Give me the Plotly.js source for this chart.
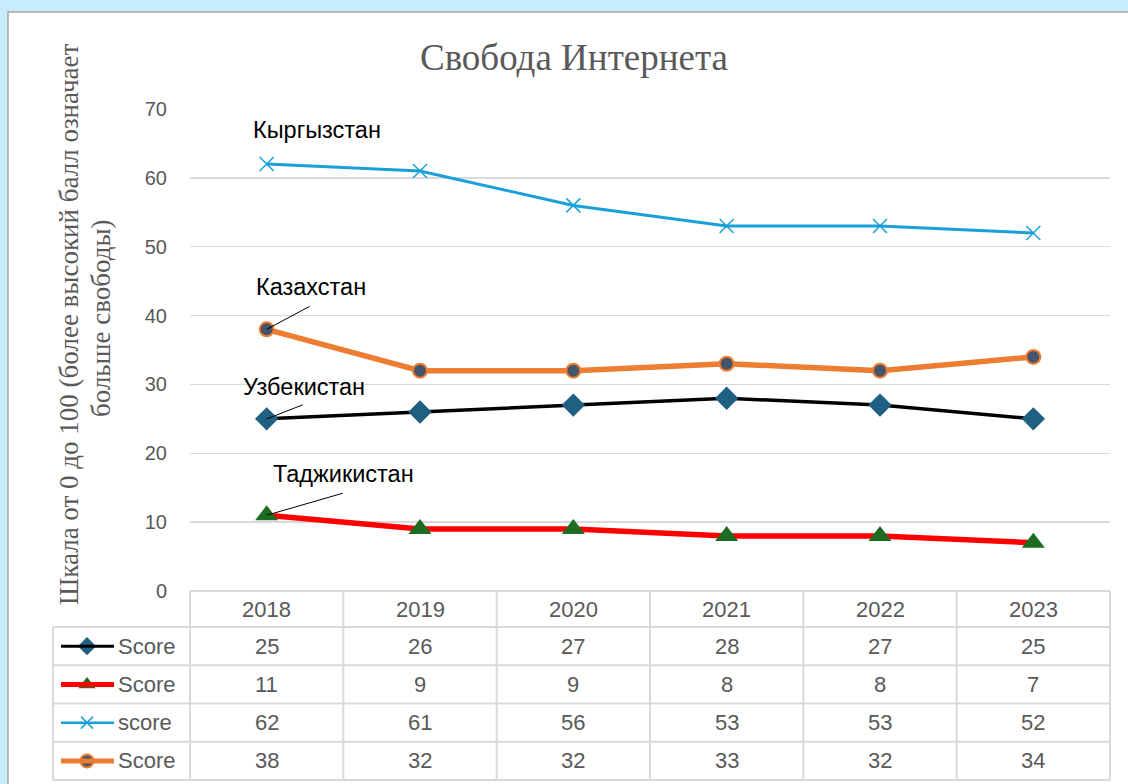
<!DOCTYPE html>
<html>
<head>
<meta charset="utf-8">
<script src="https://cdn.plot.ly/plotly-3.0.1.min.js"></script>
<style>html,body{margin:0;padding:0;}#chart{width:1128px;height:784px;}</style>
</head>
<body>
<div id="chart"></div>
<script>
// ---- data ----
const years = ['2018', '2019', '2020', '2021', '2022', '2023'];
const uzbekistan = [25, 26, 27, 28, 27, 25];
const tajikistan = [11, 9, 9, 8, 8, 7];
const kyrgyzstan = [62, 61, 56, 53, 53, 52];
const kazakhstan = [38, 32, 32, 33, 32, 34];
const seriesNames = ['Score', 'Score', 'score', 'Score'];
const countryLabels = ['Узбекистан', 'Таджикистан', 'Кыргызстан', 'Казахстан'];
const titleText = 'Свобода Интернета';
const yTitleLines = ['Шкала от 0 до 100 (более высокий балл означает', 'больше свободы)'];

// ---- geometry (pixels) ----
const W = 1128, H = 784;
const L = 190, R = 1110, T = 109, B = 591;
const tableLeft = 53, headerBottom = 627, rowH = 38.25;
const px = v => v / W;
const py = v => 1 - v / H;

const sans = 'Liberation Sans, Arial, sans-serif';
const serif = 'Liberation Serif, Times New Roman, serif';
const grey = '#595959';
const gridC = '#d9d9d9';

const styles = [
  {data: uzbekistan, line: {color: '#000000', width: 3.5}, marker: {symbol: 'diamond', size: 18, color: '#1f5f82'}, keySize: 14},
  {data: tajikistan, line: {color: '#ff0000', width: 5.5}, marker: {symbol: 'triangle-up', size: 20, color: '#1e6b22'}, keySize: 15},
  {data: kyrgyzstan, line: {color: '#1aa0d8', width: 3}, marker: {symbol: 'x-thin', size: 14, color: '#1aa0d8', line: {color: '#1aa0d8', width: 1.5}}, keySize: 12},
  {data: kazakhstan, line: {color: '#ed7d31', width: 5.5}, marker: {symbol: 'circle', size: 14, color: '#44546a', line: {color: '#ed7d31', width: 2}}, keySize: 13}
];

const idx = years.map((y, i) => i);

const traces = styles.map((s, i) => ({
  type: 'scatter', mode: 'lines+markers', x: years, y: s.data,
  name: seriesNames[i], line: s.line, marker: s.marker, cliponaxis: false,
  xaxis: 'x', yaxis: 'y', showlegend: false, hoverinfo: 'skip'
}));

// legend keys in table
const rowCenter = i => headerBottom + rowH * (i + 0.5);
styles.forEach((s, i) => {
  traces.push({
    type: 'scatter', mode: 'markers', x: [87], y: [rowCenter(i)],
    marker: Object.assign({}, s.marker, {size: s.keySize}), xaxis: 'x2', yaxis: 'y2', showlegend: false, hoverinfo: 'skip', cliponaxis: false
  });
});

const shapes = [];
// white panel
shapes.push({type: 'rect', xref: 'paper', yref: 'paper', x0: px(8), x1: px(W + 10), y0: py(12), y1: py(H + 10),
  fillcolor: '#ffffff', line: {color: '#a6a6a6', width: 1.5}, layer: 'below'});

// table grid
const colW = (R - L) / years.length;
const tableBottom = headerBottom + rowH * 4;
for (let i = 0; i <= years.length; i++) {
  shapes.push({type: 'line', xref: 'paper', yref: 'paper', x0: px(L + i * colW), x1: px(L + i * colW),
    y0: py(B), y1: py(tableBottom), line: {color: gridC, width: 2}});
}
shapes.push({type: 'line', xref: 'paper', yref: 'paper', x0: px(tableLeft), x1: px(tableLeft),
  y0: py(headerBottom), y1: py(tableBottom), line: {color: gridC, width: 2}});
shapes.push({type: 'line', xref: 'paper', yref: 'paper', x0: px(L), x1: px(R),
  y0: py(B), y1: py(B), line: {color: gridC, width: 2}});
for (let r = 0; r <= 4; r++) {
  const yy = headerBottom + r * rowH;
  shapes.push({type: 'line', xref: 'paper', yref: 'paper', x0: px(tableLeft), x1: px(R),
    y0: py(yy), y1: py(yy), line: {color: gridC, width: 2}});
}
// legend key lines
styles.forEach((s, i) => {
  shapes.push({type: 'line', xref: 'paper', yref: 'paper', x0: px(61), x1: px(114),
    y0: py(rowCenter(i)), y1: py(rowCenter(i)), line: {color: s.line.color, width: s.line.width - 0.5}});
});

// leader lines (pixel offsets from first data point)
const leaders = [
  {series: 0, dx: 36, dy: 14},
  {series: 1, dx: 76, dy: 22},
  {series: 3, dx: 43, dy: 23}
];
leaders.forEach(l => {
  shapes.push({type: 'line', xref: 'x', yref: 'y', xsizemode: 'pixel', ysizemode: 'pixel',
    xanchor: idx[0], yanchor: styles[l.series].data[0], x0: 0, x1: l.dx, y0: 0, y1: l.dy,
    line: {color: '#000000', width: 1}});
});

const annotations = [];
// country labels
const labelShifts = [
  {xs: 37, ys: 32}, {xs: 77, ys: 41}, {xs: 50, ys: 34}, {xs: 44, ys: 42}
];
countryLabels.forEach((t, i) => {
  annotations.push({xref: 'x', yref: 'y', x: idx[0], y: styles[i].data[0], xshift: labelShifts[i].xs, yshift: labelShifts[i].ys,
    text: t, showarrow: false, font: {family: sans, size: 23.5, color: '#000000'}, xanchor: 'center', yanchor: 'middle'});
});
// table header
idx.forEach(j => {
  annotations.push({xref: 'x', yref: 'paper', x: j, y: py((B + headerBottom) / 2), text: years[j], showarrow: false,
    font: {family: sans, size: 22, color: grey}, xanchor: 'center', yanchor: 'middle'});
});
// table values
styles.forEach((s, i) => {
  s.data.forEach((v, j) => {
    annotations.push({xref: 'x', yref: 'paper', x: idx[j], y: py(rowCenter(i)), text: String(v), showarrow: false,
      font: {family: sans, size: 22, color: grey}, xanchor: 'center', yanchor: 'middle'});
  });
  annotations.push({xref: 'paper', yref: 'paper', x: px(116), y: py(rowCenter(i)), text: seriesNames[i], showarrow: false,
    font: {family: sans, size: 22, color: grey}, xanchor: 'left', yanchor: 'middle'});
});
// y-axis title (two lines)
annotations.push({xref: 'paper', yref: 'paper', x: px(69), y: py(325), text: yTitleLines[0], textangle: -90, showarrow: false,
  font: {family: serif, size: 27, color: grey}, xanchor: 'center', yanchor: 'middle'});
annotations.push({xref: 'paper', yref: 'paper', x: px(101), y: py(318), text: yTitleLines[1], textangle: -90, showarrow: false,
  font: {family: serif, size: 27, color: grey}, xanchor: 'center', yanchor: 'middle'});

const layout = {
  width: W, height: H,
  margin: {l: 0, r: 0, t: 0, b: 0, pad: 0},
  paper_bgcolor: '#c8ecfb',
  plot_bgcolor: 'rgba(0,0,0,0)',
  title: {text: titleText, x: 574 / W, xanchor: 'center', y: py(57), yanchor: 'middle', xref: 'container', yref: 'container',
    font: {family: serif, size: 37, color: grey}},
  xaxis: {domain: [px(L), px(R)], type: 'category', range: [-0.5, years.length - 0.5], showticklabels: false,
    showgrid: false, zeroline: false, showline: false, ticks: '', fixedrange: true},
  yaxis: {domain: [py(B), py(T)], range: [0, 70], dtick: 10, tick0: 0, showgrid: true, gridcolor: gridC, gridwidth: 1.5,
    zeroline: false, showline: false, ticks: '', ticklabelstandoff: 22,
    tickfont: {family: sans, size: 20, color: grey}, fixedrange: true},
  xaxis2: {domain: [0, 1], range: [0, W], visible: false, anchor: 'y2', fixedrange: true},
  yaxis2: {domain: [0, 1], range: [H, 0], visible: false, anchor: 'x2', fixedrange: true},
  shapes: shapes,
  annotations: annotations,
  showlegend: false
};

Plotly.newPlot('chart', traces, layout, {displayModeBar: false, staticPlot: true});
</script>
</body>
</html>
